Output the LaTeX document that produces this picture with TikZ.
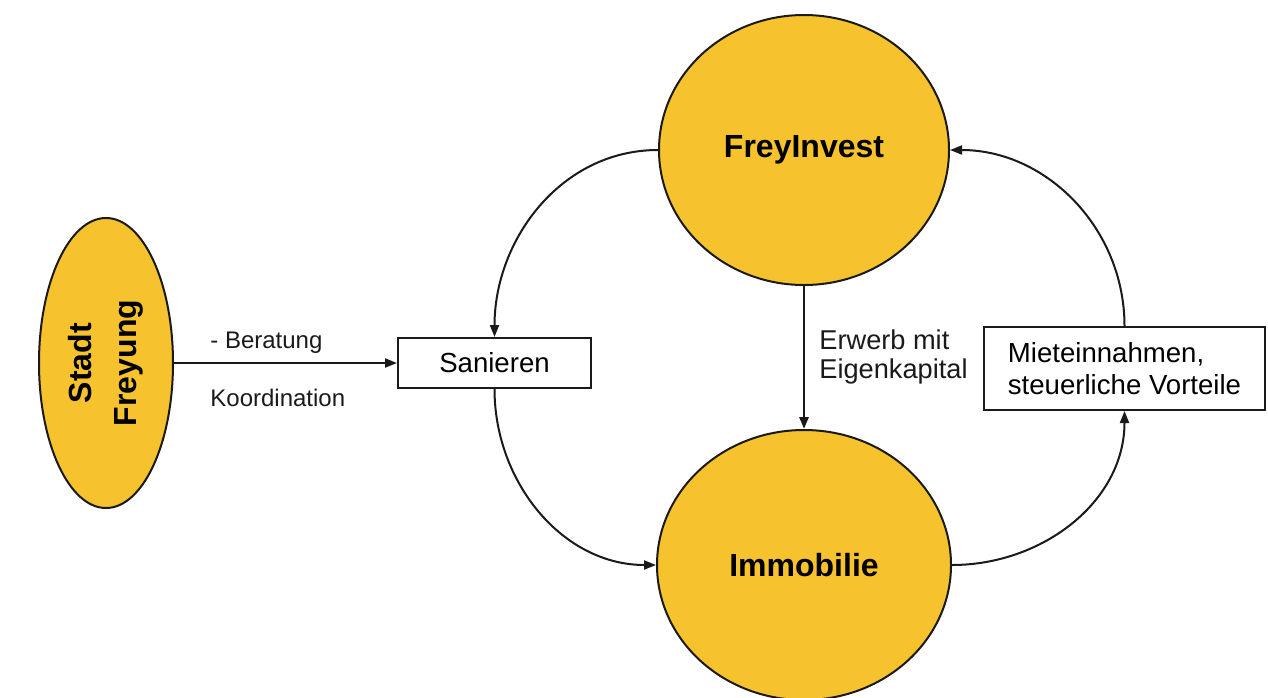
\documentclass[tikz,border=0pt]{standalone}
\usepackage{fontspec}
\setmainfont{Liberation Sans}
\usetikzlibrary{shapes.geometric,arrows.meta}
\definecolor{gold}{HTML}{F6C22E}
\definecolor{ink}{HTML}{1A1A1A}
\tikzset{
  blob/.style={ellipse, draw=ink, fill=gold, line width=1pt, inner sep=0pt,
    font=\fontsize{16}{22.5}\selectfont\bfseries},
  box/.style={rectangle, draw=ink, fill=white, line width=1pt, inner sep=0pt,
    font=\fontsize{13.8}{16}\selectfont},
  flow/.style={draw=ink, line width=1pt, -{Triangle[length=6pt,width=4.5pt]}},
  lab/.style={text=ink, anchor=west, inner sep=0pt, font=\fontsize{12}{14.5}\selectfont},
}

\begin{document}
\begin{tikzpicture}[x=0.5pt,y=-0.5pt]
  \fill[white] (0,0) rectangle (1268,697);
  \useasboundingbox (0,0) rectangle (1268,697);

  % bubbles
  \node[blob, minimum width=145pt, minimum height=135pt] (frey) at (804,150) {FreyInvest};
  \node[blob, minimum width=147pt, minimum height=135pt] (imm) at (804,565) {Immobilie};
  \node[blob, rotate=90, align=center, minimum width=145pt, minimum height=67pt] (stadt) at (106,363) {Stadt\\Freyung};

  % boxes
  \node[box, minimum width=96.5pt, minimum height=25pt] (san) at (494.5,363) {Sanieren};
  \node[box, align=left, minimum width=140.5pt, minimum height=41.5pt] (miete) at (1124.5,368.5)
    {Mieteinnahmen,\\steuerliche Vorteile};

  % labels
  \node[lab] (berat) at (210,343) {- Beratung};
  \node[lab] (koord) at (210,398) {Koordination};
  \node[lab, align=left, font=\fontsize{13.6}{14.5}\selectfont] (erwerb) at (819,357) {Erwerb mit\\Eigenkapital};

  % connectors
  \draw[flow] (stadt) -- (san);
  \draw[flow] (frey.west) to[out=180,in=90] (san.north);
  \draw[flow] (san.south) to[out=-90,in=180] (imm.west);
  \draw[flow] (imm.east) to[out=0,in=-90] (miete.south);
  \draw[flow] (miete.north) to[out=90,in=0] (frey.east);
  \draw[flow, line width=1.4pt] (frey) -- (imm);
\end{tikzpicture}
\end{document}
